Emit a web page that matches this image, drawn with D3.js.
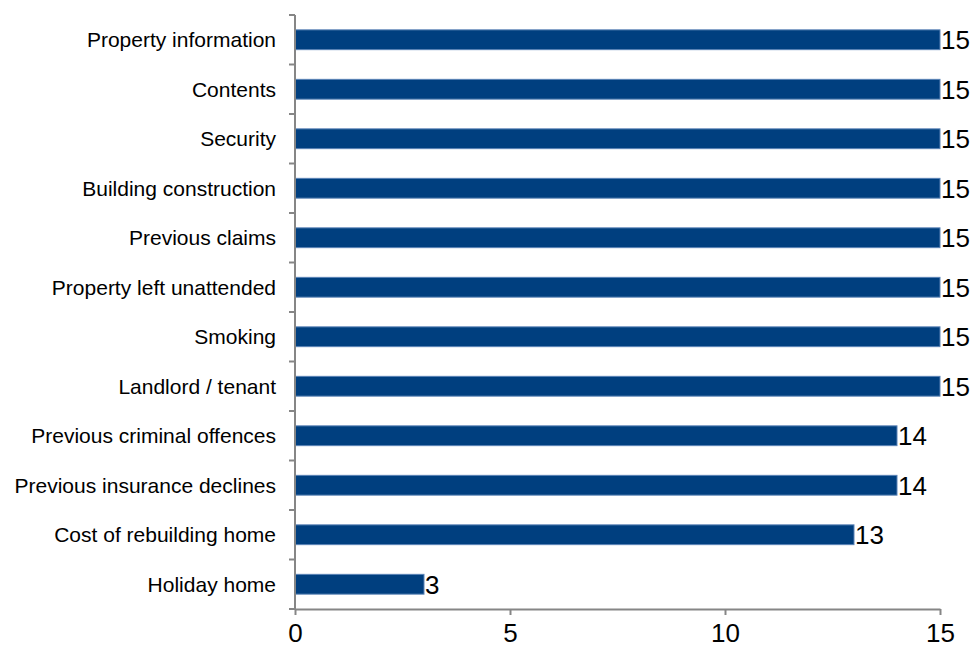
<!DOCTYPE html>
<html>
<head>
<meta charset="utf-8">
<script src="https://cdn.jsdelivr.net/npm/d3@7"></script>
<style>
  html, body { margin: 0; padding: 0; background: #fff; }
  svg { display: block; font-family: "Liberation Sans", Arial, sans-serif; }
</style>
</head>
<body>
<svg id="chart" width="973" height="648"></svg>
<script>
// Underwriting question areas and how many providers ask about each
const categories = [
  "Property information",
  "Contents",
  "Security",
  "Building construction",
  "Previous claims",
  "Property left unattended",
  "Smoking",
  "Landlord / tenant",
  "Previous criminal offences",
  "Previous insurance declines",
  "Cost of rebuilding home",
  "Holiday home"
];
const counts = [15, 15, 15, 15, 15, 15, 15, 15, 14, 14, 13, 3];
const xTicks = [0, 5, 10, 15];

(function draw() {
  const svg = d3.select("#chart");
  const margin = { left: 295, right: 33, top: 15, bottom: 39 };
  const W = 973, H = 648;

  const x = d3.scaleLinear()
    .domain([0, 15])
    .range([margin.left, W - margin.right]);

  const y = d3.scaleBand()
    .domain(categories)
    .range([margin.top, H - margin.bottom])
    .paddingInner(0.6)
    .paddingOuter(0.3);

  const axisColor = "#868686";
  const plotTop = margin.top, plotBottom = H - margin.bottom;

  // Bars
  svg.append("g")
    .selectAll("rect")
    .data(categories)
    .join("rect")
    .attr("x", x(0))
    .attr("y", d => y(d))
    .attr("width", (d, i) => x(counts[i]) - x(0))
    .attr("height", y.bandwidth())
    .attr("fill", "#003f7f")
    .attr("stroke", "#5a83b6")
    .attr("stroke-width", 1);

  // Value labels at the end of each bar
  svg.append("g")
    .selectAll("text")
    .data(categories)
    .join("text")
    .attr("x", (d, i) => x(counts[i]) + 1)
    .attr("y", d => y(d) + y.bandwidth() / 2 + 9.5)
    .attr("font-size", 26)
    .attr("fill", "#000")
    .text((d, i) => counts[i]);

  // Category axis: line plus ticks between categories
  const yAxis = svg.append("g");
  yAxis.append("line")
    .attr("x1", x(0)).attr("x2", x(0))
    .attr("y1", plotTop).attr("y2", plotBottom)
    .attr("stroke", axisColor).attr("stroke-width", 2);
  const boundaries = d3.range(categories.length + 1).map(i => plotTop + i * y.step());
  yAxis.selectAll("line.tick")
    .data(boundaries)
    .join("line")
    .attr("class", "tick")
    .attr("x1", x(0) - 6).attr("x2", x(0))
    .attr("y1", d => d).attr("y2", d => d)
    .attr("stroke", axisColor).attr("stroke-width", 2);
  yAxis.selectAll("text")
    .data(categories)
    .join("text")
    .attr("x", 276)
    .attr("y", d => y(d) + y.bandwidth() / 2 + 7.5)
    .attr("text-anchor", "end")
    .attr("font-size", 21)
    .attr("fill", "#000")
    .text(d => d);

  // Value axis along the bottom
  const xAxis = d3.axisBottom(x)
    .tickValues(xTicks)
    .tickSize(6)
    .tickSizeOuter(0);
  const gx = svg.append("g")
    .attr("transform", `translate(0,${plotBottom})`)
    .call(xAxis);
  gx.select(".domain").attr("stroke", axisColor).attr("stroke-width", 2);
  gx.selectAll(".tick line").attr("stroke", axisColor).attr("stroke-width", 2);
  gx.selectAll(".tick text")
    .attr("font-size", 26)
    .attr("font-family", "Liberation Sans, Arial, sans-serif")
    .attr("fill", "#000")
    .attr("dy", null)
    .attr("y", 33);
})();
</script>
</body>
</html>
